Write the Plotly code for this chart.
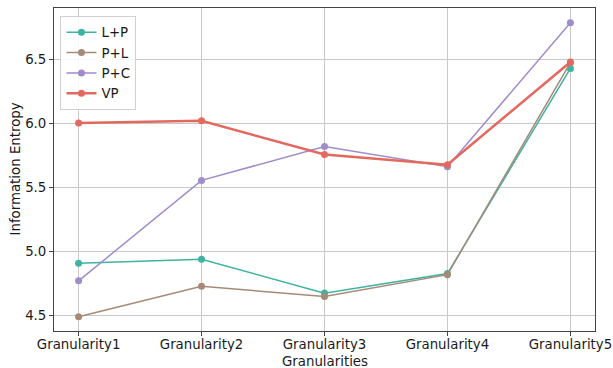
import plotly.graph_objects as go

categories = ["Granularity1", "Granularity2", "Granularity3", "Granularity4", "Granularity5"]
lp = [4.907, 4.938, 4.674, 4.827, 6.430]
pl = [4.490, 4.728, 4.647, 4.818, 6.475]
pc = [4.770, 5.555, 5.820, 5.662, 6.786]
vp = [6.004, 6.020, 5.757, 5.677, 6.480]

series = [
    ("L+P", lp, "#3fb3a2", 1.5),
    ("P+L", pl, "#a58a78", 1.5),
    ("P+C", pc, "#a08bcb", 1.5),
    ("VP", vp, "#e3685e", 2.5),
]

fig = go.Figure()
for name, vals, color, lw in series:
    fig.add_trace(go.Scatter(
        x=categories, y=vals, name=name, mode="lines+markers",
        line=dict(color=color, width=lw),
        marker=dict(color=color, size=7),
    ))

font = "DejaVu Sans, sans-serif"
fs = 13.33
W, H = 613, 368
L, R, T, B = 54, 18, 8, 37
axis_common = dict(
    showgrid=True, gridcolor="#c8c8c8", gridwidth=1,
    showline=True, linecolor="#444444", linewidth=1, mirror=True,
    ticks="outside", ticklen=4, tickcolor="#444444",
    tickfont=dict(family=font, size=fs, color="#1a1a1a"),
    zeroline=False, automargin=False,
)

plot_w = W - L - R
plot_h = H - T - B

fig.update_layout(
    width=W, height=H,
    margin=dict(l=L, r=R, t=T, b=B),
    plot_bgcolor="white", paper_bgcolor="white",
    font=dict(family=font, size=fs, color="#1a1a1a"),
    xaxis=dict(type="category", range=[-0.2, 4.2], ticklabelstandoff=-3, **axis_common),
    yaxis=dict(
        range=[4.378, 6.902], tickvals=[4.5, 5.0, 5.5, 6.0, 6.5], tickformat=".1f",
        **axis_common,
    ),
    legend=dict(
        x=0.012, y=0.975, xanchor="left", yanchor="top",
        bgcolor="rgba(255,255,255,0.85)", bordercolor="#d0d0d0", borderwidth=1,
        font=dict(family=font, size=fs), tracegroupgap=0, itemwidth=30,
    ),
    showlegend=True,
)

# axis titles placed as annotations so they sit clear of the tick labels
fig.add_annotation(
    text="Granularities", xref="paper", yref="paper",
    x=0.5, y=-(361 - (H - B)) / plot_h, xanchor="center", yanchor="middle",
    showarrow=False, font=dict(family=font, size=fs, color="#1a1a1a"),
)
fig.add_annotation(
    text="Information Entropy", xref="paper", yref="paper",
    x=(15 - L) / plot_w, y=0.5, xanchor="center", yanchor="middle", textangle=-90,
    showarrow=False, font=dict(family=font, size=fs, color="#1a1a1a"),
)

fig.write_html("out.html")
